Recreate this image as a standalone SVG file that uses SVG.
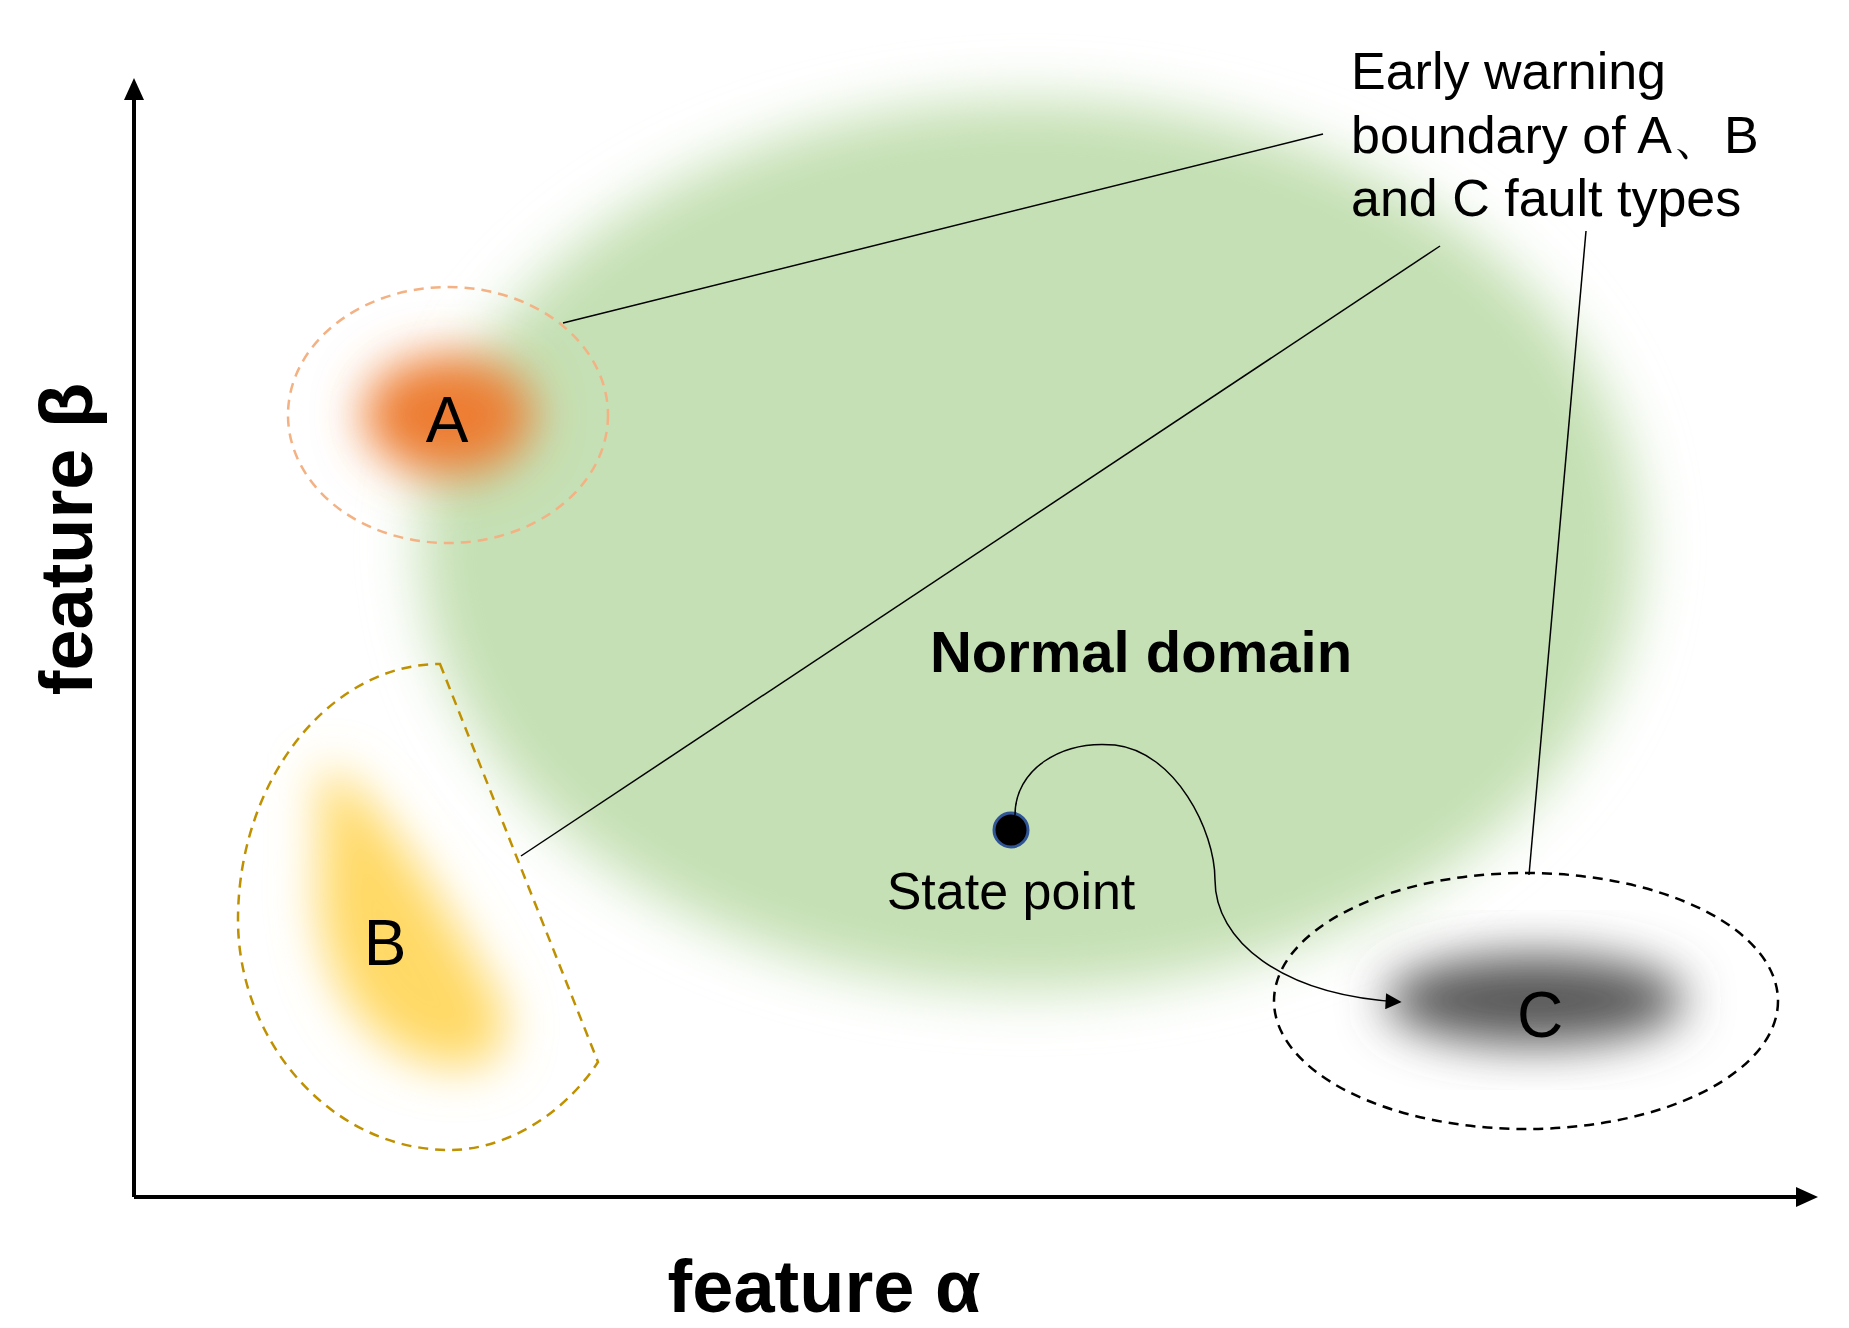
<svg xmlns="http://www.w3.org/2000/svg" width="1849" height="1328" viewBox="0 0 1849 1328">
<defs>
<style>
text{font-family:"Liberation Sans",Arial,sans-serif;fill:#000}
.lbl{font-size:64px;text-anchor:middle}
.note{font-size:52px}
.lead{stroke:#000;stroke-width:1.5;fill:none}
.dash{fill:none;stroke-width:2.5;stroke-dasharray:10 7}
</style>
<filter id="b40" x="-50%" y="-50%" width="200%" height="200%"><feGaussianBlur stdDeviation="28"/></filter>
<filter id="b20" x="-50%" y="-50%" width="200%" height="200%"><feGaussianBlur stdDeviation="24"/></filter>
<marker id="ah2" viewBox="0 0 10 10" refX="9" refY="5" markerWidth="22" markerHeight="16" markerUnits="userSpaceOnUse" orient="auto"><path d="M0,0L10,5L0,10z" fill="#000"/></marker>
</defs>
<rect width="1849" height="1328" fill="#fff"/>
<g id="normal">
<ellipse cx="1030" cy="545" rx="610" ry="445" fill="#c5e0b4" filter="url(#b40)"/>
<text x="1141" y="672" font-size="58" font-weight="bold" text-anchor="middle">Normal domain</text>
</g>
<g id="A">
<ellipse cx="448" cy="415" rx="85" ry="60" fill="#ed7d31" filter="url(#b20)"/>
<ellipse cx="448" cy="415" rx="160" ry="128" class="dash" stroke="#f4b183"/>
<text x="447" y="442" class="lbl">A</text>
</g>
<g id="B">
<path d="M320,770 C350,760 420,860 500,1000 C520,1060 480,1080 420,1060 C340,1030 310,940 320,860 Z" fill="#ffd966" filter="url(#b20)"/>
<path d="M440,664 L598,1062 C560,1120 500,1150 450,1150 C330,1150 238,1040 238,920 C238,780 330,664 440,664 Z" class="dash" stroke="#bf9000"/>
<text x="385" y="965" class="lbl">B</text>
</g>
<g id="C">
<ellipse cx="1535" cy="1000" rx="150" ry="45" fill="#595959" filter="url(#b20)"/>
<ellipse cx="1526" cy="1001" rx="252" ry="128" class="dash" stroke="#000"/>
<text x="1540" y="1037" class="lbl">C</text>
</g>
<g id="state">
<circle cx="1011" cy="830" r="17" fill="#000" stroke="#2f5597" stroke-width="3"/>
<text x="1011" y="909" font-size="52" text-anchor="middle">State point</text>
</g>
<g id="note">
<text class="note" x="1351" y="89">Early warning</text>
<text class="note" x="1351" y="153">boundary of A、B</text>
<text class="note" x="1351" y="216">and C fault types</text>
</g>
<g id="connectors">
<line class="lead" x1="563" y1="323" x2="1323" y2="134"/>
<line class="lead" x1="521" y1="856" x2="1440" y2="246"/>
<line class="lead" x1="1529" y1="875" x2="1586" y2="231"/>
<path class="lead" d="M1015,815 C1015,770 1060,740 1115,745 C1175,752 1215,830 1215,880 C1215,940 1280,995 1400,1002" marker-end="url(#ah2)"/>
<path d="M134,1197 V83" stroke="#000" stroke-width="4" fill="none"/>
<path d="M124,100 L134,78 L144,100 Z" fill="#000"/>
<path d="M134,1197 H1813" stroke="#000" stroke-width="4" fill="none"/>
<path d="M1796,1187 L1818,1197 L1796,1207 Z" fill="#000"/>
</g>
<g id="axes-labels">
<text x="824" y="1312" font-size="74" font-weight="bold" text-anchor="middle">feature α</text>
<text transform="translate(92,539) rotate(-90)" font-size="74" font-weight="bold" text-anchor="middle">feature β</text>
</g>
</svg>
